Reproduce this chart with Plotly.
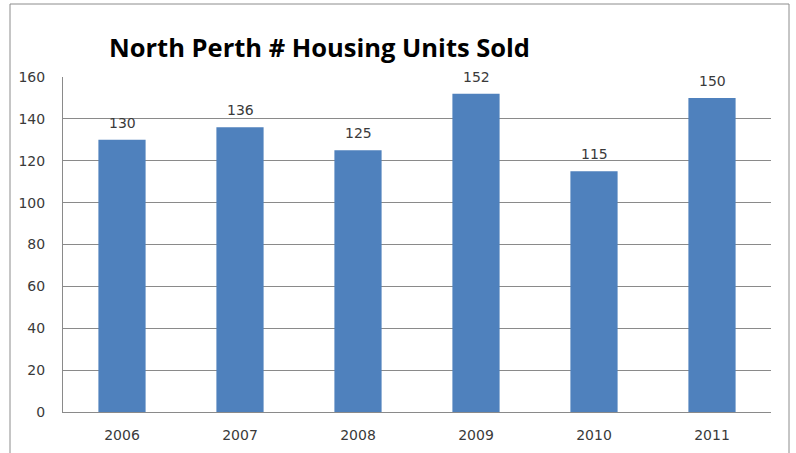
import plotly.graph_objects as go

# Annual housing units sold in North Perth
years = ["2006", "2007", "2008", "2009", "2010", "2011"]
units_sold = [130, 136, 125, 152, 115, 150]
y_ticks = [0, 20, 40, 60, 80, 100, 120, 140, 160]

W, H = 796, 453
ML, MR, MT, MB = 63, 25, 77, 41
PW, PH = W - ML - MR, H - MT - MB

grid = "#8a8a8a"
label_font = dict(family="DejaVu Sans, Verdana, sans-serif", size=14, color="#3a3a3a")

fig = go.Figure(
    go.Bar(
        x=years,
        y=units_sold,
        marker=dict(color="#4f81bd", line=dict(width=0)),
        hoverinfo="x+y",
    )
)

def px_x(px):
    return (px - ML) / PW

def px_y(py):
    return (H - MB - py) / PH

# value labels sitting a little above each bar
# (on a category axis, annotation x is the category's serial index)
value_labels = [
    dict(
        x=i,
        y=v,
        xref="x",
        yref="y",
        text=str(v),
        showarrow=False,
        xanchor="center",
        yanchor="bottom",
        yshift=7,
        font=label_font,
    )
    for i, v in enumerate(units_sold)
]

fig.update_layout(
    width=W,
    height=H,
    margin=dict(l=ML, r=MR, t=MT, b=MB, autoexpand=False),
    paper_bgcolor="white",
    plot_bgcolor="white",
    bargap=0.6,
    showlegend=False,
    xaxis=dict(
        type="category",
        categoryorder="array",
        categoryarray=years,
        range=[-0.5, len(years) - 0.5],
        automargin=False,
        showgrid=False,
        showline=True,
        linecolor=grid,
        linewidth=1,
        ticks="",
        tickfont=label_font,
        ticklabelstandoff=10,
    ),
    yaxis=dict(
        range=[0, 160],
        tickvals=y_ticks,
        automargin=False,
        showgrid=True,
        gridcolor=grid,
        gridwidth=1,
        showline=True,
        linecolor=grid,
        linewidth=1,
        zeroline=False,
        ticks="",
        tickfont=label_font,
        ticklabelstandoff=14,
    ),
    shapes=[
        dict(
            type="rect",
            xref="paper",
            yref="paper",
            x0=px_x(10),
            x1=px_x(789),
            y0=px_y(460),
            y1=px_y(4),
            line=dict(color="#8c8c8c", width=1),
            fillcolor="rgba(0,0,0,0)",
            layer="below",
        )
    ],
    annotations=[
        dict(
            text="<b>North Perth # Housing Units Sold</b>",
            xref="paper",
            yref="paper",
            x=px_x(107),
            y=px_y(47),
            xanchor="left",
            yanchor="middle",
            showarrow=False,
            font=dict(family="Open Sans, sans-serif", size=25.5, color="#000000"),
        )
    ]
    + value_labels,
)

fig.write_html("out.html")
